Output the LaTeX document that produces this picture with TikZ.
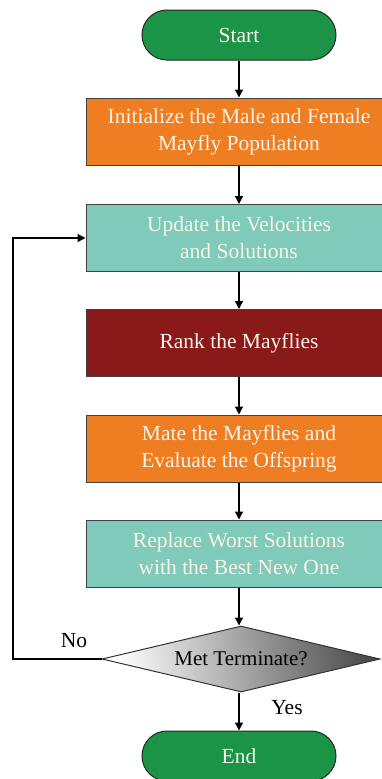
\documentclass[tikz,border=0pt]{standalone}
\usepackage{fontspec}
\setmainfont{Liberation Serif}
\usetikzlibrary{arrows.meta,shapes.geometric}
\definecolor{cgreen}{HTML}{1B9447}
\definecolor{corange}{HTML}{EF7D22}
\definecolor{cteal}{HTML}{7FCAB8}
\definecolor{cred}{HTML}{8A1A19}
\definecolor{ctext}{HTML}{FBF3EA}
\tikzset{
  box/.style={draw=black!75, line width=1pt, minimum width=306pt, minimum height=67pt,
    align=center, text=ctext, font=\fontsize{21.5}{27}\selectfont, inner sep=0pt},
  term/.style={draw=black!85, line width=1pt, rounded corners=25pt, fill=cgreen,
    minimum width=194pt, minimum height=50pt, text=ctext, font=\fontsize{21.5}{24}\selectfont},
  arr/.style={draw=black, line width=1.3pt, -{Triangle[length=8pt,width=8pt]}},
  lbl/.style={font=\fontsize{21.5}{24}\selectfont, text=black}
}
\begin{document}
\begin{tikzpicture}[x=1pt,y=-1pt]
\useasboundingbox (0,0) rectangle (382,779);
\clip (0,0) rectangle (382,779);
\fill[white] (0,0) rectangle (382,779);
\node[term] (start) at (239,35) {Start};
\node[box, fill=corange] (init) at (239,131.5) {Initialize the Male and Female\\Mayfly Population};
\node[box, fill=cteal] (upd) at (239,238) {Update the Velocities\\and Solutions};
\node[box, fill=cred] (rank) at (239,343) {Rank the Mayflies};
\node[box, fill=corange] (mate) at (239,448.5) {Mate the Mayflies and\\Evaluate the Offspring};
\node[box, fill=cteal] (repl) at (239,553.5) {Replace Worst Solutions\\with the Best New One};
\node[diamond, aspect=4.2, draw=black!80, line width=1pt, shading=axis, left color=white,
  middle color=black!25, right color=black!70,
  shading angle=100, minimum width=278pt, minimum height=66pt, inner sep=0pt,
  font=\fontsize{21}{24}\selectfont] (dec) at (241,659) {Met Terminate?};
\node[term] (end) at (239,756) {End};
\coordinate (lc) at (13,659);
\draw[arr] (start) -- (init);
\draw[arr] (init) -- (upd);
\draw[arr] (upd) -- (rank);
\draw[arr] (rank) -- (mate);
\draw[arr] (mate) -- (repl);
\draw[arr] (repl.south) -- (repl.south |- dec.north);
\draw[arr] (dec.south -| end.north) -- (end.north);
\draw[arr] (dec.west) -- (lc) |- (upd.west);
\node[lbl] (no) at (74,641) {No};
\node[lbl] (yes) at (287,708) {Yes};
\end{tikzpicture}
\end{document}
